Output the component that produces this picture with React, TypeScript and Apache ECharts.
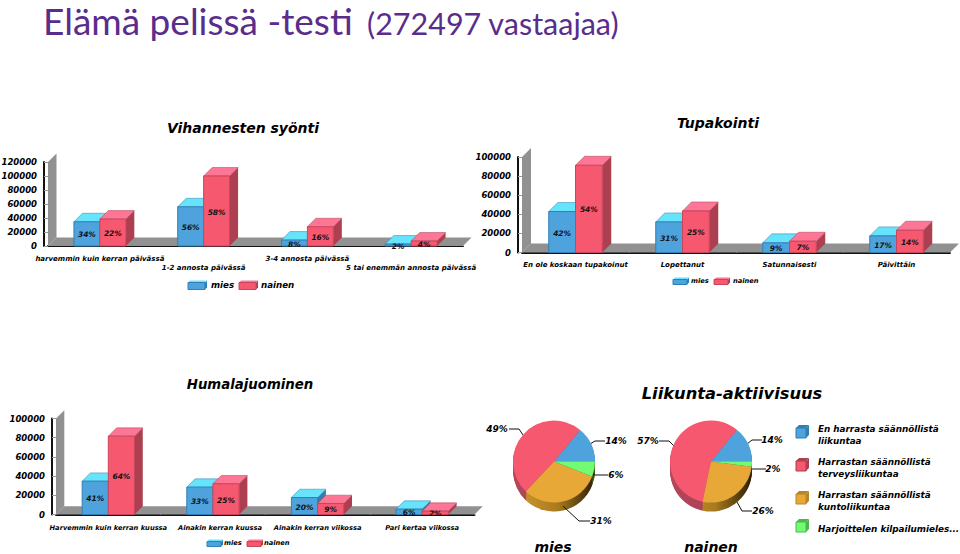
import React, { useEffect, useRef } from "react";
import * as echarts from "echarts";

const mainTitle = "Elämä pelissä -testi";
const mainSub = "(272497 vastaajaa)";
const seriesNames = ["mies", "nainen"];

const vegCats = ["harvemmin kuin kerran päivässä", "1-2 annosta päivässä", "3-4 annosta päivässä", "5 tai enemmän annosta päivässä"];
const vegMies = [34600, 56000, 8500, 2800];
const vegNainen = [38400, 100000, 27500, 7100];
const vegMiesPct = ["34%", "56%", "8%", "2%"];
const vegNainenPct = ["22%", "58%", "16%", "4%"];

const smokeCats = ["En ole koskaan tupakoinut", "Lopettanut", "Satunnaisesti", "Päivittäin"];
const smokeMies = [42900, 32000, 10100, 17400];
const smokeNainen = [91300, 43500, 11800, 23300];
const smokeMiesPct = ["42%", "31%", "9%", "17%"];
const smokeNainenPct = ["54%", "25%", "7%", "14%"];

const drinkCats = ["Harvemmin kuin kerran kuussa", "Ainakin kerran kuussa", "Ainakin kerran viikossa", "Pari kertaa viikossa"];
const drinkMies = [34700, 28500, 17700, 5600];
const drinkNainen = [81600, 32000, 11500, 3500];
const drinkMiesPct = ["41%", "33%", "20%", "6%"];
const drinkNainenPct = ["64%", "25%", "9%", "2%"];

const sportCats = ["En harrasta säännöllistä\nliikuntaa", "Harrastan säännöllistä\nterveysliikuntaa", "Harrastan säännöllistä\nkuntoliikuntaa", "Harjoittelen kilpailumieles..."];
const sportMies = [14, 49, 31, 6];
const sportNainen = [14, 57, 26, 2];

const FONT = "DejaVu Sans";
const BLUE = { front: "#4fa3dc", top: "#66e4fb", side: "#2f7fb0", line: "#2f80b8" };
const RED = { front: "#f5586f", top: "#fd7695", side: "#ac3f50", line: "#c9455c" };
const pieColors = ["#4fa3dc", "#f5586f", "#e8a838", "#74fb74"];
const pieSides = ["#2f7fb0", "#ac3f50", "#b8862a", "#4cb84c"];
const GRAY = "#919191";

const txt = (size: number) => ({ fontFamily: FONT, fontWeight: "bold" as const, fontStyle: "italic" as const, fontSize: size, color: "#000" });

function makeWall(gridIndex: number, d: number) {
  return {
    type: "custom", xAxisIndex: gridIndex, yAxisIndex: gridIndex, silent: true, z: 1,
    data: [[0, 0]], encode: { x: 0, y: 1 },
    renderItem: (params: any) => {
      const { x, y, width: w, height: h } = params.coordSys;
      return {
        type: "group",
        children: [
          { type: "polygon", shape: { points: [[x, y + h], [x, y], [x + d, y - d], [x + d, y + h - d]] }, style: { fill: GRAY } },
          { type: "polygon", shape: { points: [[x, y + h], [x + d, y + h - d], [x + w + d, y + h - d], [x + w, y + h]] }, style: { fill: GRAY } },
        ],
      };
    },
  };
}

function makeBars(gridIndex: number, name: string, values: number[], pct: string[], c: any, slot: number, d: number, labelSize: number) {
  return {
    type: "custom", name, xAxisIndex: gridIndex, yAxisIndex: gridIndex, silent: true, z: 2 + slot,
    data: values.map((v, i) => [i, v, pct[i]]), encode: { x: 0, y: 1 },
    renderItem: (_p: any, api: any) => {
      const base = api.coord([api.value(0), 0]);
      const top = api.coord([api.value(0), api.value(1)]);
      const bw = api.size([1, 0])[0] * 0.25;
      const x0 = base[0] + (slot - 1) * bw;
      const x1 = x0 + bw;
      const yT = top[1];
      const yB = base[1];
      return {
        type: "group",
        children: [
          { type: "polygon", shape: { points: [[x1, yB], [x1, yT], [x1 + d, yT - d], [x1 + d, yB - d]] }, style: { fill: c.side } },
          { type: "polygon", shape: { points: [[x0, yT], [x0 + d, yT - d], [x1 + d, yT - d], [x1, yT]] }, style: { fill: c.top, stroke: c.side, lineWidth: 0.5 } },
          { type: "rect", shape: { x: x0, y: yT, width: bw, height: yB - yT }, style: { fill: c.front, stroke: c.line, lineWidth: 1 } },
          { type: "text", x: (x0 + x1) / 2, y: (yT + yB) / 2 + 1, style: { text: String(api.value(2)), align: "center", verticalAlign: "middle", font: `italic bold ${labelSize}px "${FONT}"`, fill: "#111" } },
        ],
      };
    },
  };
}

function cube3d(x: number, y: number, w: number, h: number, d: number, c: any) {
  return [
    { type: "polygon", shape: { points: [[x + w, y + h], [x + w, y], [x + w + d, y - d], [x + w + d, y + h - d]] }, style: { fill: c.side } },
    { type: "polygon", shape: { points: [[x, y], [x + d, y - d], [x + w + d, y - d], [x + w, y]] }, style: { fill: c.top } },
    { type: "rect", shape: { x, y, width: w, height: h }, style: { fill: c.front, stroke: c.line, lineWidth: 1 } },
  ];
}

const glabel = (x: number, y: number, text: string, size: number, lh = size + 3) => ({
  type: "text", x, y, style: { text, font: `italic bold ${size}px "${FONT}"`, fill: "#000", verticalAlign: "middle", align: "left", lineHeight: lh },
});

function legendPair(ix1: number, tx1: number, ix2: number, tx2: number, y: number, w: number, h: number, d: number, size: number) {
  return [
    ...cube3d(ix1, y - h / 2 + 1, w, h, d, BLUE),
    glabel(tx1, y, seriesNames[0], size),
    ...cube3d(ix2, y - h / 2 + 1, w, h, d, RED),
    glabel(tx2, y, seriesNames[1], size),
  ];
}

const wallGrad = (i: number, cx: number, r: number) => {
  const stops = [
    [{ offset: 0, color: "#2f7fb0" }, { offset: 1, color: "#2f7fb0" }],
    [{ offset: 0, color: "#b5465c" }, { offset: 1, color: "#a33c50" }],
    [{ offset: 0, color: "#d29a30" }, { offset: 0.55, color: "#a87a20" }, { offset: 1, color: "#2c1e04" }],
    [{ offset: 0, color: "#3e5010" }, { offset: 1, color: "#3e5010" }],
  ][i];
  return new echarts.graphic.LinearGradient(cx - r, 0, cx + r, 0, stops, true);
};

function makePie(values: number[], cx: number, cy: number, r: number, depth: number, layout: any[]) {
  const out: any[] = [];
  const mk = (off: number, colorOf: (i: number) => any, withLabel: boolean) => ({
    type: "pie", center: [cx, cy + off], radius: [0, r], startAngle: 0, clockwise: false, silent: true, z: 5 + (depth - off) / 100,
    avoidLabelOverlap: false,
    itemStyle: { borderWidth: 0 },
    data: values.map((v, i) => ({ name: sportCats[i], value: v, itemStyle: { color: colorOf(i) } })),
    label: withLabel
      ? { show: true, position: "outside", formatter: (p: any) => `${p.value}%`, ...txt(9) }
      : { show: false },
    labelLine: withLabel ? { show: true, lineStyle: { color: "#111", width: 1 } } : { show: false },
    labelLayout: withLabel
      ? (p: any) => {
          const L = layout[p.dataIndex];
          return { x: L.x, y: L.y, align: "center", verticalAlign: "middle", labelLinePoints: L.pts };
        }
      : undefined,
  });
  for (let off = depth; off >= 1; off--) out.push(mk(off, (i) => wallGrad(i, cx, r), false));
  out.push(mk(0, (i) => pieColors[i], true));
  return out;
}

const miesLayout = [
  { x: 616, y: 441, pts: [[605, 441], [595, 441], [590, 444]] },
  { x: 497, y: 429, pts: [[509, 429], [519, 429], [523, 435]] },
  { x: 601, y: 521, pts: [[590, 521], [579, 521], [563, 506]] },
  { x: 616, y: 475, pts: [[608, 475], [595, 475], [593, 474]] },
];
const nainenLayout = [
  { x: 772, y: 440, pts: [[762, 440], [752, 440], [747, 444]] },
  { x: 648, y: 441, pts: [[659, 441], [669, 441], [674, 446]] },
  { x: 763, y: 511, pts: [[752, 511], [742, 511], [737, 502]] },
  { x: 773, y: 469, pts: [[766, 469], [752, 469], [750, 468]] },
];

const gridsCfg = [
  { left: 48, top: 162, width: 415, height: 84, max: 120000, cats: vegCats, stagger: true, size: 7, margin: 4 },
  { left: 522, top: 157, width: 428, height: 95.5, max: 100000, cats: smokeCats, stagger: false, size: 7, margin: 4 },
  { left: 56, top: 418.5, width: 418.5, height: 96, max: 100000, cats: drinkCats, stagger: false, size: 6.7, margin: 5 },
];

const pieLegendIcons = [433, 466, 499, 527];
const pieLegendText = [435, 468, 501, 529];

export default function App() {
  const ref = useRef<HTMLDivElement>(null);
  useEffect(() => {
    document.body.style.margin = "0";
    const chart = echarts.init(ref.current!, null, { renderer: "svg" });
    const title = (text: string, x: number, y: number, size: number) => ({
      text, left: x, top: y, textAlign: "center", padding: 0,
      textStyle: { fontFamily: FONT, fontWeight: "bold", fontStyle: "italic", fontSize: size, color: "#000" },
    });
    const headline = (text: string, x: number, y: number, size: number) => ({
      text, left: x, top: y, padding: 0,
      textStyle: { fontFamily: "Lato", fontWeight: "normal", fontSize: size, color: "#5a2d8c" },
    });
    const option: any = {
      animation: false,
      backgroundColor: "#fff",
      title: [
        headline(mainTitle, 43, 2, 37),
        headline(mainSub, 367, 7, 30.5),
        title("Vihannesten syönti", 243, 121, 14),
        title("Tupakointi", 718, 116, 14),
        title("Humalajuominen", 250, 378, 13.3),
        title("Liikunta-aktiivisuus", 732, 385, 16.3),
        title("mies", 553, 540, 14),
        title("nainen", 711, 540, 14),
      ],
      grid: gridsCfg.map((g) => ({ left: g.left, top: g.top, width: g.width, height: g.height, outerBoundsMode: "none", containLabel: false })),
      xAxis: gridsCfg.map((g, gi) => ({
        type: "category", gridIndex: gi, offset: 4, boundaryGap: true,
        data: g.cats.map((c, i) => (gi === 2 && i === 1 ? { value: c, textStyle: { padding: [0, 0, 0, 14] } } : c)),
        axisLine: { show: true, lineStyle: { color: "#111", width: 2 } },
        axisTick: { show: true, inside: true, length: 4, alignWithLabel: false, interval: 0, lineStyle: { color: "#bbb" } },
        axisLabel: {
          interval: 0, margin: g.margin, hideOverlap: false, ...txt(g.size),
          lineHeight: 9,
          formatter: (v: string, i: number) => (g.stagger && i % 2 === 1 ? `\n${v}` : v),
        },
        splitLine: { show: false },
      })),
      yAxis: gridsCfg.map((g, gi) => ({
        type: "value", gridIndex: gi, min: 0, max: g.max, interval: 20000, offset: 4,
        axisLine: { show: true, lineStyle: { color: "#111", width: 2 } },
        axisTick: { show: true, inside: true, length: 4, lineStyle: { color: "#999" } },
        axisLabel: { margin: 7, ...txt(8.5), formatter: (v: number) => String(v) },
        splitLine: { show: false },
      })),
      series: [
        makeWall(0, 8.5), makeWall(1, 9), makeWall(2, 8.3),
        makeBars(0, "mies", vegMies, vegMiesPct, BLUE, 0, 8.5, 7.5),
        makeBars(0, "nainen", vegNainen, vegNainenPct, RED, 1, 8.5, 7.5),
        makeBars(1, "mies", smokeMies, smokeMiesPct, BLUE, 0, 9, 7.5),
        makeBars(1, "nainen", smokeNainen, smokeNainenPct, RED, 1, 9, 7.5),
        makeBars(2, "mies", drinkMies, drinkMiesPct, BLUE, 0, 8.3, 7.5),
        makeBars(2, "nainen", drinkNainen, drinkNainenPct, RED, 1, 8.3, 7.5),
        ...makePie(sportMies, 554, 461.5, 41, 9, miesLayout),
        ...makePie(sportNainen, 711, 461.5, 41, 9, nainenLayout),
      ],
      graphic: [
        ...legendPair(188, 211, 239, 261, 285, 17, 7, 2, 8.7),
        ...legendPair(673, 691, 714, 733, 281, 14, 5, 2, 6.7),
        ...legendPair(207, 224, 247, 264, 543, 14, 5, 2, 6.7),
        ...sportCats.flatMap((t, i) => [
          ...cube3d(796, pieLegendIcons[i] - 5, 10, 10, 3, {
            front: pieColors[i], top: pieSides[i], side: pieSides[i], line: pieSides[i],
          }),
          glabel(818, pieLegendText[i], t, 8.8, 12),
        ]),
      ],
    };
    chart.setOption(option);
    return () => chart.dispose();
  }, []);
  return <div ref={ref} style={{ position: "absolute", left: 0, top: 0, width: 960, height: 554 }} />;
}
